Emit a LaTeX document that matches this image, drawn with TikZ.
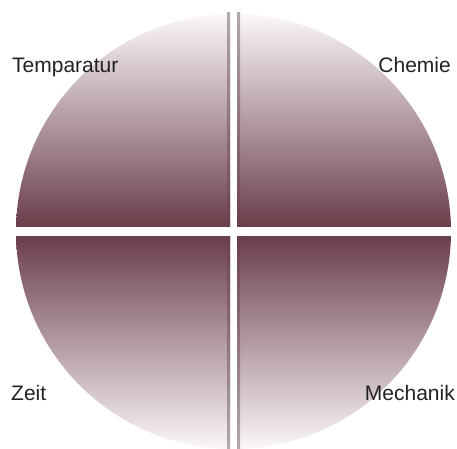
\documentclass[tikz,border=0pt]{standalone}
\usepackage{fontspec}
\setmainfont{Liberation Sans}
\usepackage{xcolor}
\usepackage{tikz}
\definecolor{wine}{HTML}{6A3E4A}
\definecolor{blush}{HTML}{FBF7F8}
\definecolor{midup}{HTML}{B8A2A8}
\definecolor{midlow}{HTML}{A88F96}
\definecolor{seam}{HTML}{B3A9B0}
\definecolor{ink}{HTML}{222222}
\begin{document}
\begin{tikzpicture}[x=1pt,y=-1pt,
      every node/.style={font=\fontsize{21}{25}\selectfont,text=ink,inner sep=0pt},
      upper/.style={top color=blush,middle color=midup,bottom color=wine},
      lower/.style={top color=wine,middle color=midlow,bottom color=blush}]
      \useasboundingbox[fill=white] (0,0) rectangle (457,448);
      \begin{scope}
        \clip (233.5,231.5) circle (217.5pt);
        \foreach \xa/\xb in {16/230,237/451} {
          \shade[upper] (\xa,14) rectangle (\xb,226);
          \shade[lower] (\xa,236) rectangle (\xb,449);
        }
      \end{scope}
      % seams along the vertical gap
      \foreach \xa in {227,237} {
        \shade[top color=seam,bottom color=wine] (\xa,12) rectangle (\xa+3,226);
        \shade[top color=wine,bottom color=seam] (\xa,236) rectangle (\xa+3,448);
      }
      \node[anchor=base west] (temp) at (12,72) {Temparatur};
      \node[anchor=base east] (chem) at (451,72) {Chemie};
      \node[anchor=base west] (zeit) at (11,400) {Zeit};
      \node[anchor=base east] (mech) at (455,400) {Mechanik};
    \end{tikzpicture}
\end{document}
